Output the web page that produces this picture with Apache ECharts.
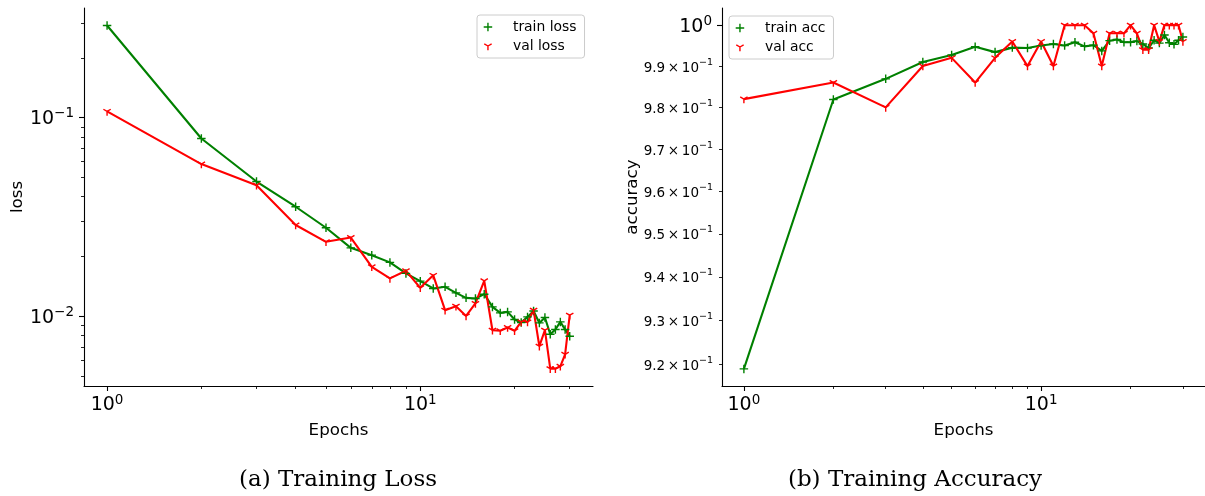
<!DOCTYPE html>
<html>
<head>
<meta charset="utf-8">
<script src="https://cdn.jsdelivr.net/npm/echarts@6/dist/echarts.min.js"></script>
<style>
html, body { margin: 0; padding: 0; background: #fff; }
#chart { width: 1205px; height: 496px; }
</style>
</head>
<body>
<div id="chart"></div>
<script>
// Epoch index and per-epoch metrics
const epochs = [1, 2, 3, 4, 5, 6, 7, 8, 9, 10, 11, 12, 13, 14, 15, 16, 17, 18, 19, 20, 21, 22, 23, 24, 25, 26, 27, 28, 29, 30];
const trainLoss = [0.2915, 0.0786, 0.0477, 0.0356, 0.0279, 0.0221, 0.0203, 0.01867, 0.01643, 0.01502,
                   0.0138, 0.01406, 0.01311, 0.01237, 0.01228, 0.01291, 0.01114, 0.01039, 0.01051, 0.00962,
                   0.00929, 0.00992, 0.01063, 0.00925, 0.00985, 0.00811, 0.00857, 0.00936, 0.00857, 0.00793];
const valLoss = [0.1076, 0.0584, 0.0457, 0.0288, 0.0237, 0.0249, 0.01774, 0.0155, 0.01694, 0.0139,
                 0.01606, 0.01072, 0.01123, 0.01003, 0.01159, 0.01508, 0.0085, 0.00844, 0.00877, 0.00844,
                 0.00936, 0.00936, 0.01072, 0.00706, 0.0085, 0.00544, 0.00544, 0.00559, 0.00643, 0.01012];
const trainAcc = [0.9190, 0.9819, 0.9869, 0.9910, 0.9927, 0.9947, 0.9934, 0.9945, 0.9944, 0.9950,
                  0.9954, 0.9950, 0.9958, 0.9948, 0.9951, 0.9937, 0.9962, 0.9965, 0.9958, 0.9958,
                  0.9961, 0.9954, 0.9944, 0.9963, 0.9956, 0.9976, 0.9957, 0.9953, 0.9963, 0.9971];
const valAcc = [0.982, 0.986, 0.980, 0.990, 0.992, 0.986, 0.992, 0.996, 0.990, 0.996,
                0.990, 1.000, 1.000, 1.000, 0.998, 0.990, 0.998, 0.998, 0.998, 1.000,
                0.998, 0.994, 0.994, 1.000, 0.996, 1.000, 1.000, 1.000, 1.000, 0.996];

// Tick positions
const epochMajor = [1, 10];
const epochMinor = [2, 3, 4, 5, 6, 7, 8, 9, 20, 30];
const lossMajor = [0.01, 0.1];
const lossMinor = [0.005, 0.006, 0.007, 0.008, 0.009, 0.02, 0.03, 0.04, 0.05, 0.06, 0.07, 0.08, 0.09, 0.2, 0.3];
const accMajor = [1];
const accMinor = [0.92, 0.93, 0.94, 0.95, 0.96, 0.97, 0.98, 0.99];

// Text
const lossNames = ['train loss', 'val loss'];
const accNames = ['train acc', 'val acc'];
const captions = ['(a) Training Loss', '(b) Training Accuracy'];

const GREEN = '#008000';
const RED = '#ff0000';
const PLUS = 'path://M0,5L10,5M5,0L5,10';
const TRI_DOWN = 'path://M5,5L5,10M5,5L0.67,2.5M5,5L9.33,2.5M0,0M10,10';
const SANS = 'DejaVu Sans';
const SERIF = 'DejaVu Serif';

const epochRange = [0.844, 35.6];
const lossRange = [0.00445, 0.357];
const accRange = [0.91515, 1.00423];

const powRich = {
  b: { fontSize: 19, fontFamily: SANS, color: '#000', lineHeight: 22, verticalAlign: 'bottom' },
  s: { fontSize: 13.5, fontFamily: SANS, color: '#000', lineHeight: 14, verticalAlign: 'top' }
};
const smallRich = {
  m: { fontSize: 13.5, fontFamily: SANS, color: '#000', lineHeight: 18, verticalAlign: 'bottom' },
  s: { fontSize: 9.5, fontFamily: SANS, color: '#000', lineHeight: 10, verticalAlign: 'top' }
};
function powLabel(v) {
  const e = Math.round(Math.log10(v));
  return '{b|10}{s|' + String(e).replace('-', '\u2212') + '}';
}
function mantissaLabel(v) {
  const e = Math.floor(Math.log10(v) + 1e-9);
  const m = (v / Math.pow(10, e)).toFixed(1);
  return '{m|' + m + '\u2009\u00d7\u200910}{s|' + String(e).replace('-', '\u2212') + '}';
}

const spine = { show: true, lineStyle: { color: '#000', width: 1.1 } };

function majorAxis(grid, range, ticks, extra) {
  return Object.assign({
    type: 'log', gridIndex: grid, min: range[0], max: range[1],
    axisLine: spine,
    axisTick: { show: true, customValues: ticks, length: 5, lineStyle: { color: '#000', width: 1.1 } },
    axisLabel: { show: true, customValues: ticks, formatter: powLabel, rich: powRich },
    splitLine: { show: false }, minorTick: { show: false }, minorSplitLine: { show: false }
  }, extra);
}
function minorAxis(grid, range, ticks, extra) {
  return Object.assign({
    type: 'log', gridIndex: grid, min: range[0], max: range[1],
    axisLine: { show: false },
    axisTick: { show: true, customValues: ticks, length: 3, lineStyle: { color: '#000', width: 0.85 } },
    axisLabel: { show: false },
    splitLine: { show: false }, minorTick: { show: false }, minorSplitLine: { show: false }
  }, extra);
}

const nameStyle = { fontSize: 16.7, fontFamily: SANS, color: '#000' };

function pairs(xs, ys) { return xs.map((x, i) => [x, ys[i]]); }
function lineSeries(name, xi, yi, xs, ys, color, symbol) {
  return {
    name: name, type: 'line', xAxisIndex: xi, yAxisIndex: yi,
    data: pairs(xs, ys),
    symbol: symbol, symbolSize: 8.5, showSymbol: true,
    lineStyle: { color: color, width: 2.1 },
    itemStyle: { color: color, borderColor: color, borderWidth: 1.4 },
    emphasis: { disabled: true },
    animation: false
  };
}
function legendItem(name, color, icon) {
  return { name: name, icon: icon, itemStyle: { color: color, borderColor: color, borderWidth: 1.4 } };
}
const legendBase = {
  orient: 'vertical',
  itemWidth: 28, itemHeight: 8.5, itemGap: 5,
  padding: [5, 8, 5, 6],
  borderColor: '#cccccc', borderWidth: 1, borderRadius: 3,
  backgroundColor: 'rgba(255,255,255,0.8)',
  formatter: n => '{t|' + n + '}',
  textStyle: { fontSize: 13.9, fontFamily: SANS, color: '#000', rich: { t: { fontSize: 13.9, fontFamily: SANS, padding: [0, 0, 0, 6] } } },
  selectedMode: false
};

const chart = echarts.init(document.getElementById('chart'), null, { renderer: 'canvas' });
chart.setOption({
  animation: false,
  backgroundColor: '#fff',
  grid: [
    { left: 84, top: 8, width: 509, height: 378 },
    { left: 722, top: 8, width: 489, height: 378 }
  ],
  xAxis: [
    majorAxis(0, epochRange, epochMajor, {
      position: 'bottom', name: 'Epochs', nameLocation: 'middle', nameGap: 36, nameTextStyle: nameStyle,
      axisLabel: { show: true, customValues: epochMajor, formatter: powLabel, rich: powRich, margin: 7 }
    }),
    minorAxis(0, epochRange, epochMinor, { position: 'bottom' }),
    majorAxis(1, epochRange, epochMajor, {
      position: 'bottom', name: 'Epochs', nameLocation: 'middle', nameGap: 36, nameTextStyle: nameStyle,
      axisLabel: { show: true, customValues: epochMajor, formatter: powLabel, rich: powRich, margin: 7 }
    }),
    minorAxis(1, epochRange, epochMinor, { position: 'bottom' })
  ],
  yAxis: [
    majorAxis(0, lossRange, lossMajor, {
      position: 'left', name: 'loss', nameLocation: 'middle', nameGap: 58, nameTextStyle: nameStyle,
      axisLabel: { show: true, customValues: lossMajor, formatter: powLabel, rich: powRich, margin: 10 }
    }),
    minorAxis(0, lossRange, lossMinor, { position: 'left' }),
    majorAxis(1, accRange, accMajor, {
      position: 'left', name: 'accuracy', nameLocation: 'middle', nameGap: 81, nameTextStyle: nameStyle,
      axisLabel: { show: true, customValues: accMajor, formatter: powLabel, rich: powRich, margin: 10 }
    }),
    minorAxis(1, accRange, accMinor, {
      position: 'left',
      axisLabel: { show: true, customValues: accMinor, formatter: mantissaLabel, rich: smallRich, margin: 9 }
    })
  ],
  legend: [
    Object.assign({}, legendBase, {
      left: 477, top: 15,
      data: [legendItem(lossNames[0], GREEN, PLUS), legendItem(lossNames[1], RED, TRI_DOWN)]
    }),
    Object.assign({}, legendBase, {
      left: 729, top: 16,
      data: [legendItem(accNames[0], GREEN, PLUS), legendItem(accNames[1], RED, TRI_DOWN)]
    })
  ],
  series: [
    lineSeries(lossNames[0], 0, 0, epochs, trainLoss, GREEN, PLUS),
    lineSeries(lossNames[1], 0, 0, epochs, valLoss, RED, TRI_DOWN),
    lineSeries(accNames[0], 2, 2, epochs, trainAcc, GREEN, PLUS),
    lineSeries(accNames[1], 2, 2, epochs, valAcc, RED, TRI_DOWN)
  ],
  graphic: [
    { type: 'text', x: 338, y: 480, style: { text: captions[0], fontSize: 23, fontFamily: SERIF, fill: '#000', align: 'center', verticalAlign: 'middle' } },
    { type: 'text', x: 915, y: 480, style: { text: captions[1], fontSize: 23, fontFamily: SERIF, fill: '#000', align: 'center', verticalAlign: 'middle' } }
  ]
});
</script>
</body>
</html>
